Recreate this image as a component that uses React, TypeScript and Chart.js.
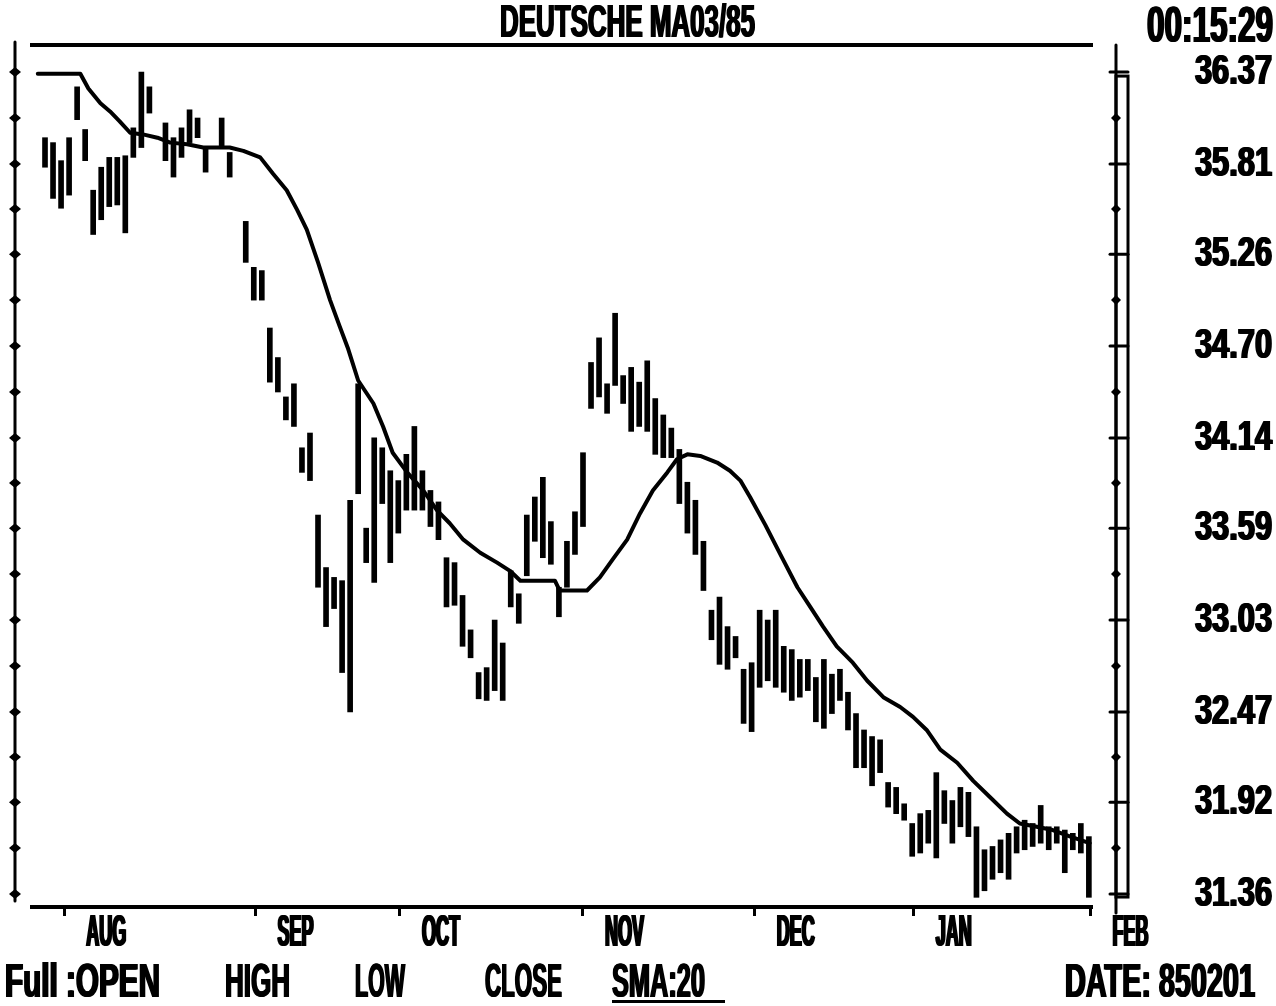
import React, { useEffect, useLayoutEffect, useRef } from 'react';
import { Chart, registerables, LinearScale } from 'chart.js';

Chart.register(...registerables);

// ---------- data ----------
const TITLE = 'DEUTSCHE MA03/85';
const CLOCK = '00:15:29';
const PRICE_TICKS = [36.37, 35.81, 35.26, 34.7, 34.14, 33.59, 33.03, 32.47, 31.92, 31.36];
const MONTHS = ['AUG', 'SEP', 'OCT', 'NOV', 'DEC', 'JAN', 'FEB'];
const MONTH_START_DAYS = [2.4, 26.2, 44.2, 67.0, 88.4, 108.2, 130.2];
const FOOTER_TEXTS = ['Full :OPEN', 'HIGH', 'LOW', 'CLOSE', 'SMA:20', 'DATE: 850201'];

const DAYS = [
  0, 1, 2, 3, 4, 5, 6, 7, 8, 9, 10, 11, 12, 13, 15, 16, 17, 18, 19, 20, 22, 23,
  25, 26, 27, 28, 29, 30, 31, 32, 33, 34, 35, 36, 37, 38, 39, 40, 41, 42, 43, 44,
  45, 46, 47, 48, 49, 50, 51, 52, 53, 54, 55, 56, 57, 58, 59, 60, 61, 62, 63, 64,
  65, 66, 67, 68, 69, 70, 71, 72, 73, 74, 75, 76, 77, 78, 79, 80, 81, 82, 83, 84,
  85, 86, 87, 88, 89, 90, 91, 92, 93, 94, 95, 96, 97, 98, 99, 100, 101, 102, 103,
  104, 105, 106, 107, 108, 109, 110, 111, 112, 113, 114, 115, 116, 117, 118, 119,
  120, 121, 122, 123, 124, 125, 126, 127, 128, 129, 130,
];
const HIGH = [
  35.97, 35.94, 35.83, 35.97, 36.28, 36.02, 35.65, 35.79, 35.85, 35.85, 35.86, 36.03, 36.37, 36.28,
  36.06, 35.97, 36.03, 36.14, 36.09, 35.91, 36.09, 35.88,
  35.46, 35.18, 35.16, 34.81, 34.63, 34.39, 34.47, 34.08, 34.17, 33.67, 33.35, 33.29, 33.27, 33.76,
  34.47, 33.59, 34.14, 34.08, 33.94, 33.88, 34.04, 34.21, 33.94, 33.82, 33.75, 33.41, 33.38, 33.18,
  32.97, 32.71, 32.74, 33.03, 32.89, 33.33, 33.19, 33.67, 33.78, 33.9, 33.63, 33.23, 33.51, 33.69,
  34.05, 34.6, 34.75, 34.47, 34.9, 34.52, 34.57, 34.48, 34.61, 34.38, 34.28, 34.2, 34.07, 33.87,
  33.76, 33.51, 33.09, 33.17, 32.99, 32.93, 32.73, 32.77, 33.09, 33.03, 33.09, 32.87, 32.85, 32.79,
  32.79, 32.68, 32.79, 32.7, 32.73, 32.59, 32.46, 32.36, 32.32, 32.3, 32.04, 32.01, 31.91, 31.79,
  31.85, 31.87, 32.1, 31.99, 31.93, 32.01, 31.98, 31.77, 31.63, 31.65, 31.69, 31.73, 31.77, 31.81,
  31.79, 31.9, 31.77, 31.77, 31.75, 31.73, 31.79, 31.71,
];
const LOW = [
  35.79, 35.6, 35.54, 35.62, 36.08, 35.83, 35.38, 35.47, 35.55, 35.56, 35.39, 35.85, 35.91, 36.12,
  35.83, 35.73, 35.85, 35.94, 35.97, 35.76, 35.91, 35.73,
  35.21, 34.98, 34.98, 34.48, 34.42, 34.25, 34.21, 33.93, 33.88, 33.23, 32.99, 33.1, 32.71, 32.47,
  33.8, 33.38, 33.26, 33.74, 33.38, 33.56, 33.7, 33.7, 33.7, 33.6, 33.52, 33.11, 33.12, 32.87,
  32.8, 32.55, 32.54, 32.6, 32.54, 33.11, 33.01, 33.3, 33.51, 33.41, 33.37, 33.05, 33.23, 33.43,
  33.6, 34.32, 34.39, 34.29, 34.46, 34.35, 34.18, 34.21, 34.18, 34.04, 34.02, 34.02, 33.74, 33.56,
  33.43, 33.21, 32.91, 32.76, 32.73, 32.8, 32.4, 32.35, 32.62, 32.66, 32.62, 32.59, 32.54, 32.56,
  32.6, 32.41, 32.37, 32.46, 32.54, 32.36, 32.13, 32.13, 32.02, 32.1, 31.89, 31.85, 31.81, 31.59,
  31.61, 31.67, 31.58, 31.79, 31.67, 31.77, 31.71, 31.34, 31.38, 31.45, 31.49, 31.45, 31.61, 31.63,
  31.65, 31.67, 31.63, 31.67, 31.49, 31.63, 31.61, 31.34,
];

const SMA_DAYS = [
  -0.9, 4.4, 5.4, 6.9, 8.1, 9.3, 10.6, 12.2, 14.0, 15.6, 17.7, 19.7, 21.4, 23.0, 24.7, 26.8,
  28.4, 30.1, 31.4, 32.6, 34.0, 35.5, 36.7, 37.7, 39.0, 40.9, 42.1, 43.3, 45.1, 47.1, 48.8,
  50.4, 52.1, 54.2, 56.3, 57.9, 59.2, 63.5, 64.1, 67.5, 69.1, 70.7, 72.5, 74.1, 75.7, 77.5,
  78.7, 80.0, 81.6, 83.7, 85.3, 86.6, 87.8, 89.7, 91.9, 93.7, 95.3, 96.9, 98.6, 100.6, 102.4,
  104.4, 106.5, 108.1, 109.8, 111.5, 113.6, 115.6, 117.7, 119.8, 121.4, 123.5, 125.5, 127.7, 130.1,
];
const SMA_VALUES = [
  36.36, 36.36, 36.27, 36.18, 36.13, 36.07, 36.0, 35.99, 35.97, 35.94, 35.93, 35.91, 35.91, 35.91,
  35.89, 35.85, 35.75, 35.65, 35.53, 35.41, 35.21, 34.98, 34.82, 34.69, 34.49, 34.35, 34.21,
  34.05, 33.93, 33.82, 33.7, 33.62, 33.52, 33.44, 33.38, 33.33, 33.27, 33.27, 33.21, 33.21,
  33.29, 33.4, 33.52, 33.68, 33.82, 33.93, 34.01, 34.04, 34.03, 33.99, 33.94, 33.88, 33.78,
  33.61, 33.4, 33.23, 33.11, 32.99, 32.87, 32.77, 32.66, 32.56, 32.5, 32.44, 32.36, 32.24,
  32.16, 32.05, 31.95, 31.85, 31.79, 31.77, 31.75, 31.71, 31.67,
];

// ---------- presentation ----------
const FONT = "'Liberation Sans', Arial, sans-serif";
const X_MIN = -1.62;
const X_MAX = 130.39;
const Y_MIN = 31.281;
const Y_MAX = 36.535;

// width (px) that a sample label of each axis occupies in the reference (condensed lettering)
const CONDENSE: Record<string, { sample: string; width: number }> = {
  x: { sample: 'AUG', width: 40 },
  y: { sample: '36.37', width: 77 },
};

const FOOTER_LAYOUT = [
  { left: 5, width: 155 },
  { left: 225, width: 65 },
  { left: 355, width: 50 },
  { left: 485, width: 77 },
  { left: 612, width: 93 },
  { left: 1065, width: 190 },
];

// Linear scale whose tick labels are drawn horizontally condensed and heavy (like the old plotter font)
class CondensedLinearScale extends LinearScale {
  static id = 'condensedLinear';
  static defaults = (LinearScale as any).defaults;
  drawLabels(chartArea: any) {
    const self: any = this;
    if (!self.options.ticks.display) return;
    const ctx: CanvasRenderingContext2D = self.ctx;
    const items = self.getLabelItems(chartArea);
    const target = CONDENSE[self.id];
    for (const item of items) {
      const o = item.options;
      for (const dx of [-1, 0, 1]) {
        ctx.save();
        ctx.font = item.font.string;
        const factor = target ? target.width / ctx.measureText(target.sample).width : 1;
        ctx.translate(o.translation[0] + dx, o.translation[1]);
        if (o.rotation) ctx.rotate(o.rotation);
        ctx.scale(factor, 1);
        ctx.fillStyle = o.color;
        ctx.textAlign = o.textAlign;
        ctx.textBaseline = o.textBaseline;
        ctx.fillText(String(item.label), 0, item.textOffset);
        ctx.restore();
      }
    }
  }
}
Chart.register(CondensedLinearScale as any);

function diamond(ctx: CanvasRenderingContext2D, x: number, y: number, w: number, h: number) {
  ctx.beginPath();
  ctx.moveTo(x - w, y);
  ctx.lineTo(x, y - h);
  ctx.lineTo(x + w, y);
  ctx.lineTo(x, y + h);
  ctx.closePath();
  ctx.fill();
}

const framePlugin = {
  id: 'frame',
  afterDraw(chart: any) {
    const { ctx, chartArea, scales } = chart;
    const y = scales.y;
    const mids: number[] = [];
    for (let i = 0; i < PRICE_TICKS.length - 1; i++) mids.push((PRICE_TICKS[i] + PRICE_TICKS[i + 1]) / 2);
    const firstPx = y.getPixelForValue(PRICE_TICKS[0]);
    const lastPx = y.getPixelForValue(PRICE_TICKS[PRICE_TICKS.length - 1]);
    ctx.save();
    ctx.strokeStyle = '#000';
    ctx.fillStyle = '#000';
    ctx.lineCap = 'round';
    // left scale rail
    const lx = chartArea.left - 17;
    ctx.lineWidth = 3;
    ctx.beginPath();
    ctx.moveTo(lx, chartArea.top - 3);
    ctx.lineTo(lx, lastPx + 7);
    ctx.stroke();
    [...PRICE_TICKS, ...mids].forEach((v) => diamond(ctx, lx, y.getPixelForValue(v), 6, 5));
    // right scale rail with box
    const rx = chartArea.right + 24;
    ctx.beginPath();
    ctx.moveTo(rx, chartArea.top);
    ctx.lineTo(rx, chartArea.bottom + 6);
    ctx.stroke();
    ctx.strokeRect(rx, firstPx + 4, 12, lastPx + 3 - (firstPx + 4));
    PRICE_TICKS.forEach((v) => {
      const p = y.getPixelForValue(v);
      ctx.beginPath();
      ctx.moveTo(rx - 6, p);
      ctx.lineTo(rx + 12, p);
      ctx.stroke();
    });
    mids.forEach((v) => diamond(ctx, rx, y.getPixelForValue(v), 5, 5));
    ctx.restore();
  },
};

function FitText(props: { text: string; left: number; top: number; width: number; size: number }) {
  const ref = useRef<HTMLSpanElement>(null);
  useLayoutEffect(() => {
    const el = ref.current;
    if (!el) return;
    el.style.transform = 'none';
    const w = el.getBoundingClientRect().width;
    if (w > 0) el.style.transform = `scaleX(${props.width / w})`;
  }, [props.text, props.width, props.size]);
  return (
    <span
      ref={ref}
      style={{
        position: 'absolute',
        left: props.left,
        top: props.top,
        fontFamily: FONT,
        fontWeight: 700,
        fontSize: props.size,
        lineHeight: 1,
        whiteSpace: 'pre',
        transformOrigin: '0 0',
        color: '#000',
        textShadow: '1.5px 0 0 #000, -1.5px 0 0 #000',
      }}
    >
      {props.text}
    </span>
  );
}

export default function App() {
  const canvasRef = useRef<HTMLCanvasElement>(null);

  useEffect(() => {
    document.body.style.margin = '0';
    const canvas = canvasRef.current;
    if (!canvas) return;
    const chart = new Chart(canvas, {
      type: 'bar',
      data: {
        datasets: [
          {
            type: 'line',
            label: 'SMA:20',
            data: SMA_DAYS.map((d, i) => ({ x: d, y: SMA_VALUES[i] })),
            borderColor: '#000',
            borderWidth: 4,
            pointRadius: 0,
            tension: 0,
            borderJoinStyle: 'round',
            borderCapStyle: 'round',
            xAxisID: 'x',
            yAxisID: 'y',
            order: 0,
          } as any,
          {
            type: 'bar',
            label: 'HIGH-LOW',
            data: DAYS.map((d, i) => ({ x: d, y: [LOW[i], HIGH[i]] })),
            backgroundColor: '#000',
            borderWidth: 0,
            barThickness: 5,
            xAxisID: 'x',
            yAxisID: 'y',
            order: 1,
          } as any,
        ],
      },
      options: {
        responsive: false,
        maintainAspectRatio: false,
        devicePixelRatio: 1,
        animation: false,
        events: [],
        layout: { padding: 0 },
        plugins: {
          legend: { display: false },
          tooltip: { enabled: false },
          title: { display: false },
        },
        scales: {
          x: {
            type: 'condensedLinear',
            position: 'bottom',
            min: X_MIN,
            max: X_MAX,
            offset: false,
            afterBuildTicks: (s: any) => {
              s.ticks = MONTH_START_DAYS.map((v) => ({ value: v }));
            },
            afterFit: (s: any) => {
              s.height = 99;
            },
            ticks: {
              autoSkip: false,
              maxRotation: 0,
              align: 'start',
              labelOffset: 22,
              padding: 0,
              color: '#000',
              font: { family: FONT, size: 45, weight: 'bold', lineHeight: 0.8 },
              callback: (_v: any, i: number) => MONTHS[i],
            },
            grid: {
              display: true,
              offset: false,
              drawOnChartArea: false,
              drawTicks: true,
              tickLength: 9,
              tickWidth: 3,
              tickColor: '#000',
            },
            border: { display: true, color: '#000', width: 4 },
          },
          xTop: {
            type: 'linear',
            position: 'top',
            min: X_MIN,
            max: X_MAX,
            afterFit: (s: any) => {
              s.height = 45;
            },
            ticks: { display: false },
            grid: { display: false, drawTicks: false },
            border: { display: true, color: '#000', width: 4 },
          },
          y: {
            type: 'condensedLinear',
            position: 'right',
            min: Y_MIN,
            max: Y_MAX,
            afterBuildTicks: (s: any) => {
              s.ticks = PRICE_TICKS.map((v) => ({ value: v }));
            },
            afterFit: (s: any) => {
              s.width = 184;
            },
            ticks: {
              padding: 3,
              color: '#000',
              font: { family: FONT, size: 42, weight: 'bold', lineHeight: 1 },
              callback: (v: any) => Number(v).toFixed(2),
            },
            grid: { display: false, drawTicks: true, tickLength: 100 },
            border: { display: false },
          },
          yLeft: {
            type: 'linear',
            position: 'left',
            afterFit: (s: any) => {
              s.width = 32;
            },
            ticks: { display: false },
            grid: { display: false, drawTicks: false },
            border: { display: false },
          },
        },
      } as any,
      plugins: [framePlugin],
    });
    return () => chart.destroy();
  }, []);

  return (
    <div style={{ position: 'absolute', left: 0, top: 0, width: 1276, height: 1006, background: '#fff', overflow: 'hidden' }}>
      <canvas ref={canvasRef} width={1276} height={1006} style={{ position: 'absolute', left: 0, top: 0, display: 'block' }} />
      <FitText text={TITLE} left={500} top={-3} width={255} size={47} />
      <FitText text={CLOCK} left={1147} top={0} width={126} size={50} />
      {FOOTER_TEXTS.map((t, i) => (
        <FitText key={t} text={t} left={FOOTER_LAYOUT[i].left} top={957} width={FOOTER_LAYOUT[i].width} size={48} />
      ))}
      <div style={{ position: 'absolute', left: 612, top: 1000, width: 113, height: 3, background: '#000' }} />
    </div>
  );
}
